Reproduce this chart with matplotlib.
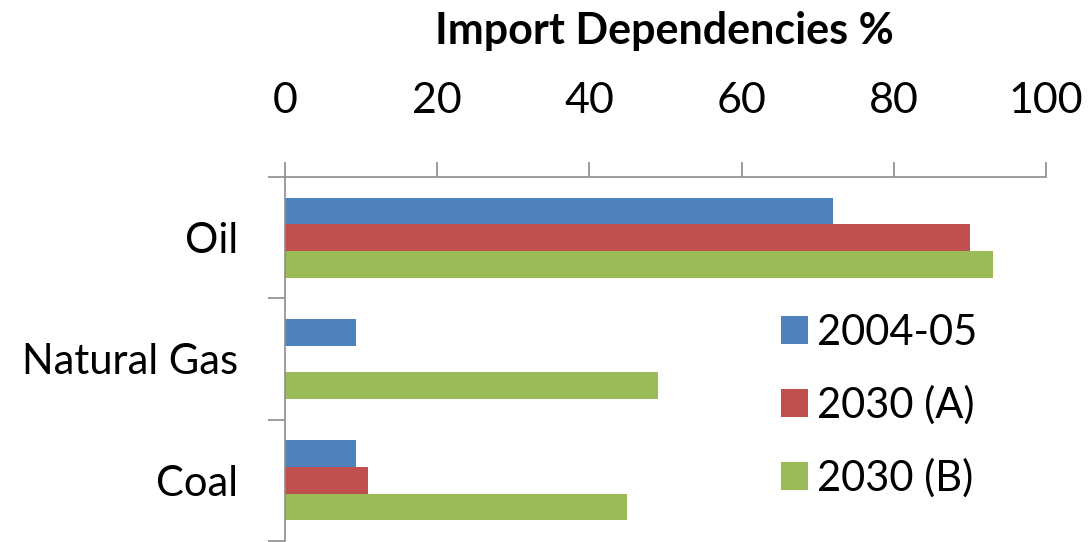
import matplotlib.pyplot as plt
import numpy as np

categories = ["Oil", "Natural Gas", "Coal"]
series_names = ["2004-05", "2030 (A)", "2030 (B)"]
v_2004 = [72, 9.3, 9.3]
v_2030a = [90, 0, 10.9]
v_2030b = [93, 49, 45]
colors = ["#4F81BD", "#C0504D", "#9BBB59"]
x_ticks = [0, 20, 40, 60, 80, 100]

plt.rcParams['font.family'] = ['Lato', 'DejaVu Sans']

fig = plt.figure(figsize=(10.88, 5.42), dpi=100)
ax = fig.add_axes([0.262, 0.002, 0.6994, 0.6714])

y = np.arange(len(categories))
h = 0.22
for i, vals in enumerate([v_2004, v_2030a, v_2030b]):
    ax.barh(y + (i - 1) * h, vals, height=h, color=colors[i], label=series_names[i])

ax.set_xlim(0, 100)
ax.set_ylim(2.5, -0.5)
ax.xaxis.tick_top()
ax.set_xticks(x_ticks)
ax.tick_params(axis='x', which='major', length=11, width=1.2, color='#8c8c8c',
               labelsize=31, pad=30)

ax.set_yticks([-0.5, 0.5, 1.5, 2.5])
ax.set_yticklabels([])
ax.set_yticks(y, minor=True)
ax.set_yticklabels(categories, minor=True)
ax.tick_params(axis='y', which='major', length=12, width=1.2, color='#8c8c8c')
ax.tick_params(axis='y', which='minor', length=0, labelsize=30, pad=34)

for s in ['right', 'bottom']:
    ax.spines[s].set_visible(False)
for s in ['top', 'left']:
    ax.spines[s].set_color('#8c8c8c')
    ax.spines[s].set_linewidth(1.2)

fig.text(0.611, 0.943, "Import Dependencies %", ha='center', va='center',
         fontsize=31, fontweight='bold')

ax.legend(loc='upper left', bbox_to_anchor=(0.63, 0.67), frameon=False,
          fontsize=30, handlelength=0.65, handleheight=0.65,
          handletextpad=0.2, labelspacing=0.8, borderaxespad=0)

fig.savefig("out.png", dpi=100)
